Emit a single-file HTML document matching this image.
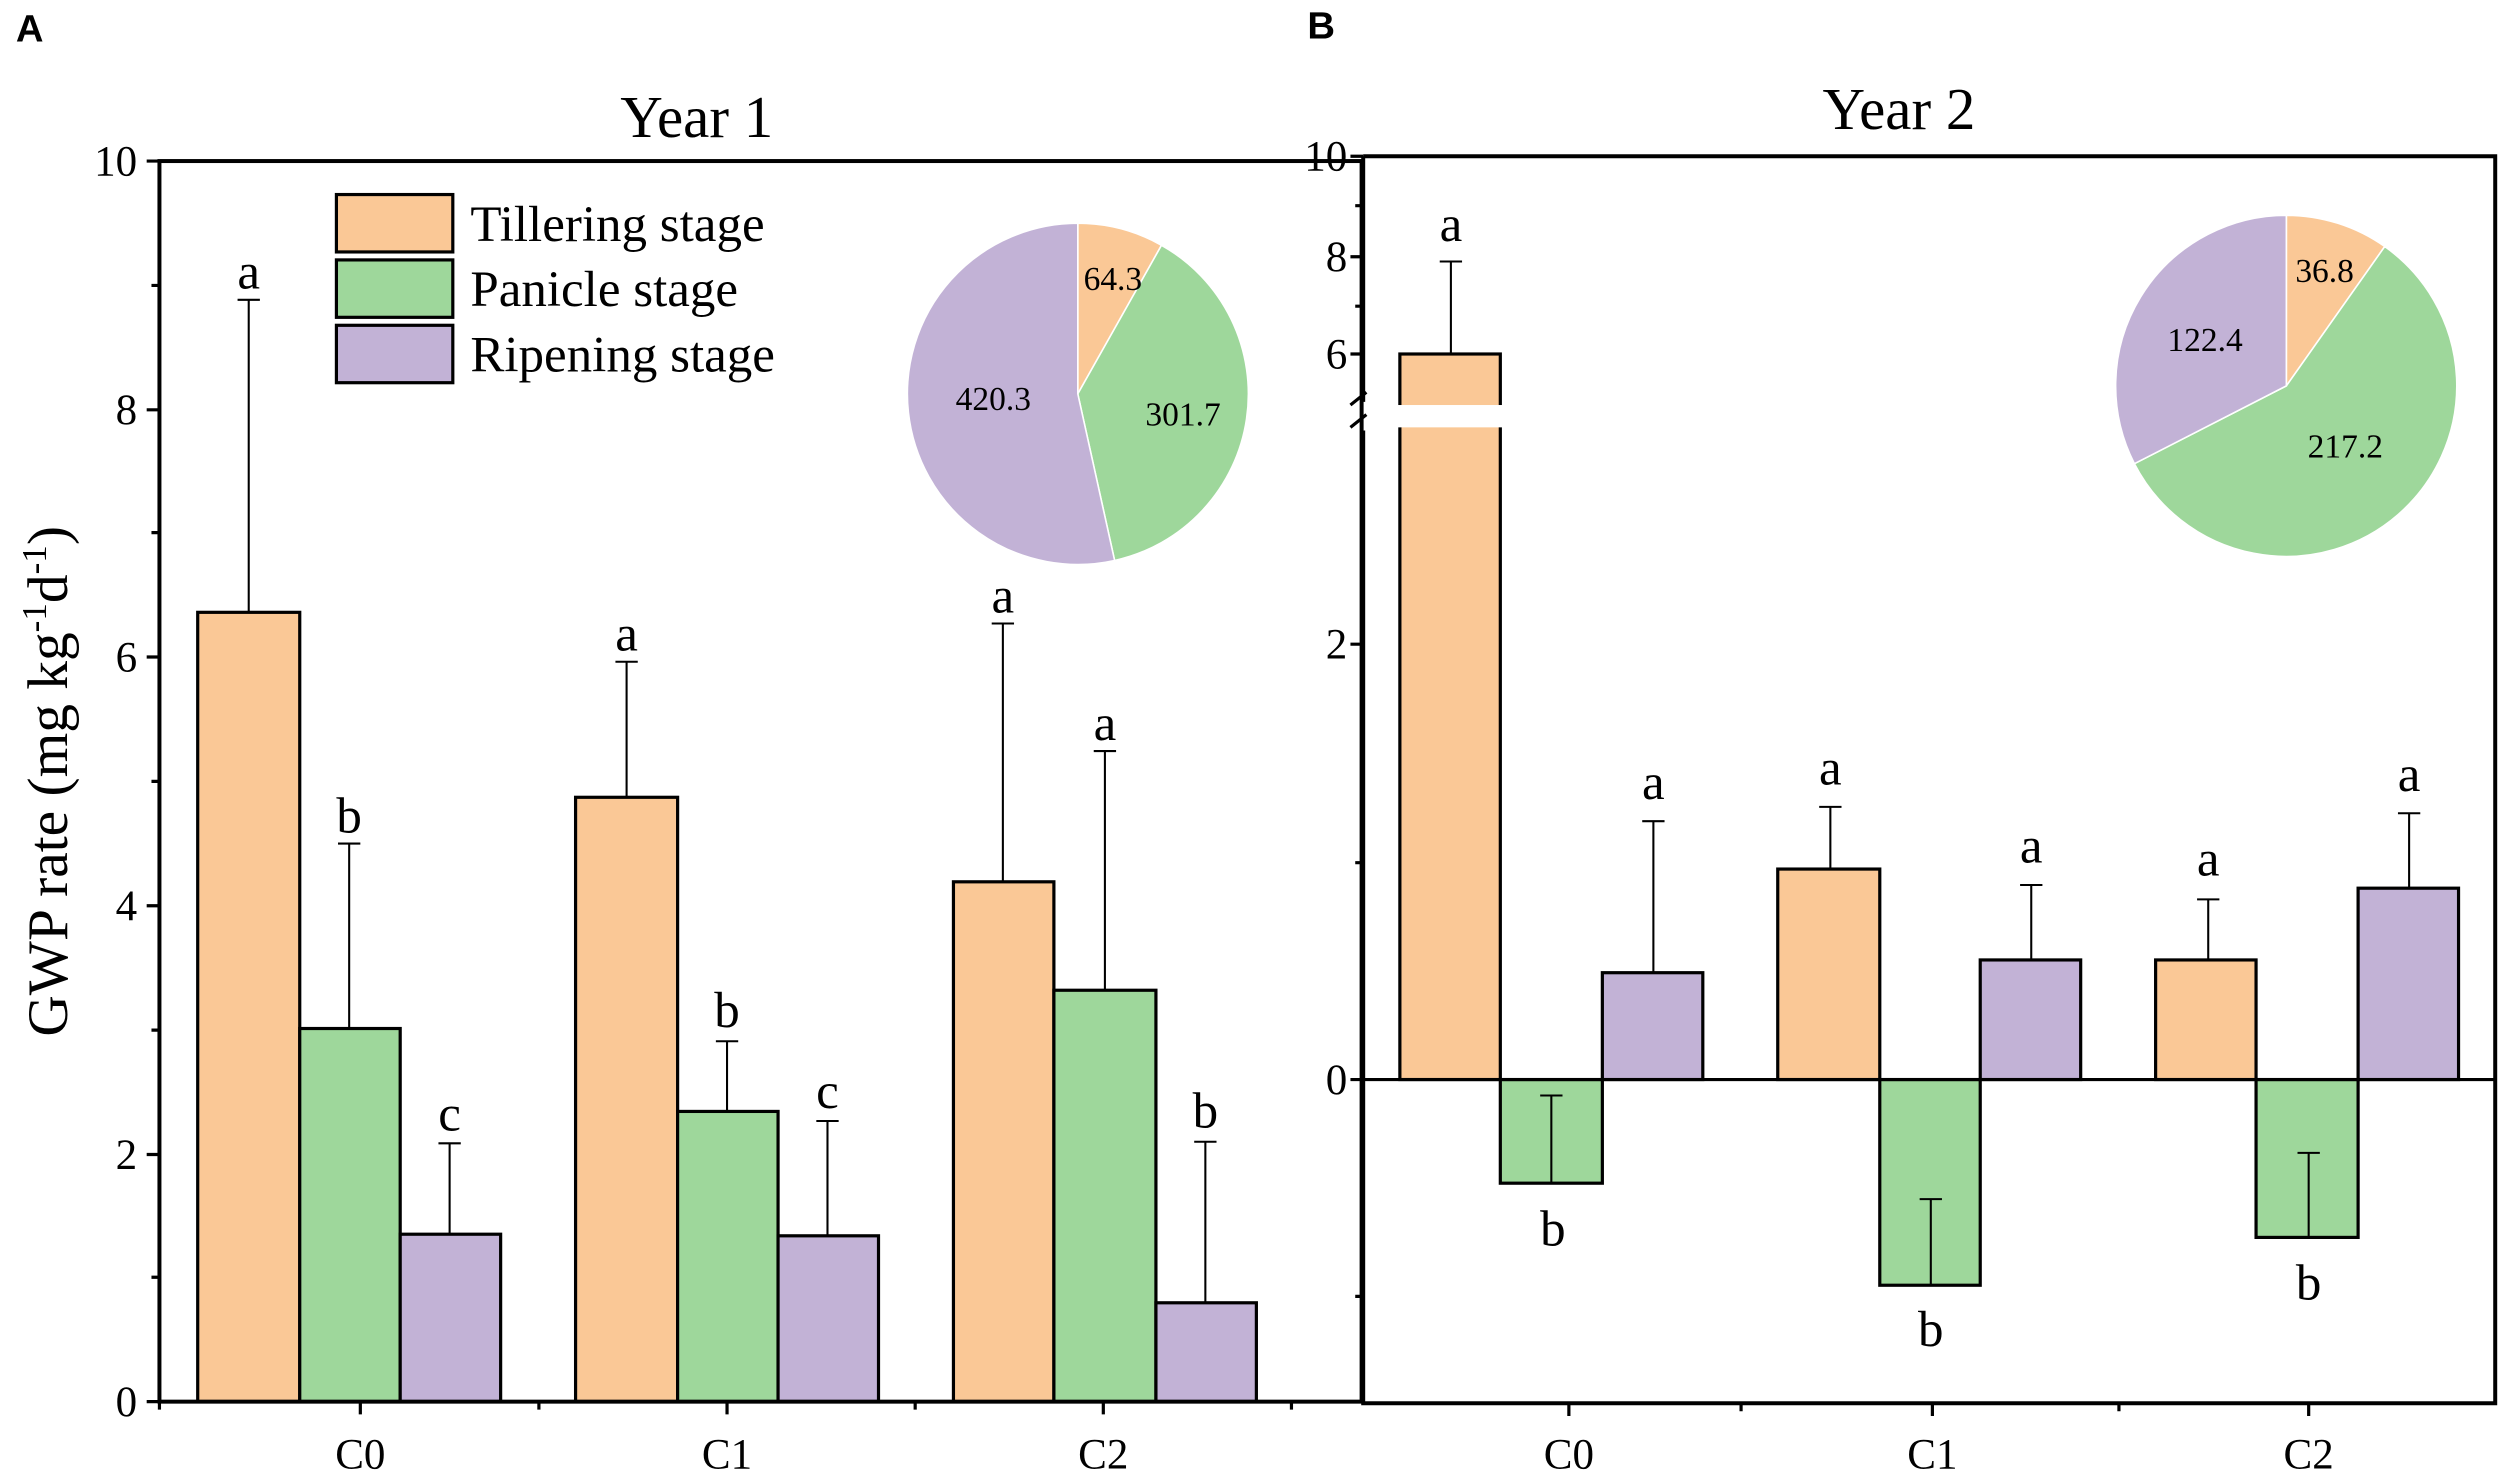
<!DOCTYPE html>
<html><head><meta charset="utf-8"><style>
html,body{margin:0;padding:0;background:#fff;}
svg{display:block;}
text{font-family:"Liberation Serif",serif;fill:#000;}
</style></head><body>
<svg width="2500" height="1475" viewBox="0 0 1568 925" preserveAspectRatio="none" xmlns="http://www.w3.org/2000/svg">
<rect width="1568" height="925" fill="#fff"/>
<text x="10" y="26" style="font-family:'Liberation Sans',sans-serif;font-weight:bold;font-size:24px">A</text>
<text x="820" y="24" style="font-family:'Liberation Sans',sans-serif;font-weight:bold;font-size:24px">B</text>
<text x="437" y="86" font-size="37" text-anchor="middle">Year 1</text>
<text x="1191" y="81" font-size="37" text-anchor="middle">Year 2</text>

<!-- Panel A -->
<g stroke="#000" stroke-width="2">
<rect x="124" y="384" width="64" height="495" fill="#FAC896"/>
<rect x="188" y="645" width="63" height="234" fill="#9ED79B"/>
<rect x="251" y="774" width="63" height="105" fill="#C2B2D6"/>
<rect x="361" y="500" width="64" height="379" fill="#FAC896"/>
<rect x="425" y="697" width="63" height="182" fill="#9ED79B"/>
<rect x="488" y="775" width="63" height="104" fill="#C2B2D6"/>
<rect x="598" y="553" width="63" height="326" fill="#FAC896"/>
<rect x="661" y="621" width="64" height="258" fill="#9ED79B"/>
<rect x="725" y="817" width="63" height="62" fill="#C2B2D6"/>
</g>
<g stroke="#000" stroke-width="1.3" fill="none">
<path d="M156 384V188M149 188H163"/>
<path d="M219 645V529M212 529H226"/>
<path d="M282 774V717M275 717H289"/>
<path d="M393 500V415M386 415H400"/>
<path d="M456 697V653M449 653H463"/>
<path d="M519 775V703M512 703H526"/>
<path d="M629 553V391M622 391H636"/>
<path d="M693 621V471M686 471H700"/>
<path d="M756 817V716M749 716H763"/>
</g>
<g font-size="32" text-anchor="middle">
<text x="156" y="181">a</text><text x="219" y="522">b</text><text x="282" y="709">c</text>
<text x="393" y="408">a</text><text x="456" y="644">b</text><text x="519" y="695">c</text>
<text x="629" y="384">a</text><text x="693" y="464">a</text><text x="756" y="707">b</text>
</g>
<rect x="100" y="101" width="754" height="778" fill="none" stroke="#000" stroke-width="2.5"/>
<g stroke="#000" stroke-width="2">
<path d="M100 101h-8M100 257h-8M100 412h-8M100 568h-8M100 724h-8M100 879h-8"/>
<path d="M100 179h-5M100 334h-5M100 490h-5M100 646h-5M100 801h-5"/>
<path d="M226 879v8M456 879v8M692 879v8M100 879v5M338 879v5M574 879v5M810 879v5"/>
</g>
<g font-size="27" text-anchor="end">
<text x="86" y="110">10</text><text x="86" y="266">8</text><text x="86" y="421">6</text>
<text x="86" y="577">4</text><text x="86" y="733">2</text><text x="86" y="888">0</text>
</g>
<g font-size="27" text-anchor="middle">
<text x="226" y="921">C0</text><text x="456" y="921">C1</text><text x="692" y="921">C2</text>
</g>
<text transform="translate(42,490) rotate(-90)" font-size="36" text-anchor="middle">GWP rate (mg kg<tspan font-size="22" dy="-13">-1</tspan><tspan dy="13">d</tspan><tspan font-size="22" dy="-13">-1</tspan><tspan dy="13">)</tspan></text>
<g stroke="#000" stroke-width="2">
<rect x="211" y="122" width="73" height="36" fill="#FAC896"/>
<rect x="211" y="163" width="73" height="36" fill="#9ED79B"/>
<rect x="211" y="204" width="73" height="36" fill="#C2B2D6"/>
</g>
<g font-size="32"><text x="295" y="151">Tillering stage</text><text x="295" y="192">Panicle stage</text><text x="295" y="233">Ripening stage</text></g>
<g stroke="#fff" stroke-width="1">
<path d="M676 247L676 140A107 107 0 0 1 728.5 153.8Z" fill="#FAC896"/>
<path d="M676 247L728.5 153.8A107 107 0 0 1 699.1 351.5Z" fill="#9ED79B"/>
<path d="M676 247L699.1 351.5A107 107 0 1 1 676 140Z" fill="#C2B2D6"/>
</g>
<g font-size="21" text-anchor="middle"><text x="698" y="182">64.3</text><text x="742" y="267">301.7</text><text x="623" y="257">420.3</text></g>

<!-- Panel B -->
<g stroke="#000" stroke-width="2">
<rect x="878" y="222" width="63" height="455" fill="#FAC896"/>
<rect x="941" y="677" width="64" height="65" fill="#9ED79B"/>
<rect x="1005" y="610" width="63" height="67" fill="#C2B2D6"/>
<rect x="1115" y="545" width="64" height="132" fill="#FAC896"/>
<rect x="1179" y="677" width="63" height="129" fill="#9ED79B"/>
<rect x="1242" y="602" width="63" height="75" fill="#C2B2D6"/>
<rect x="1352" y="602" width="63" height="75" fill="#FAC896"/>
<rect x="1415" y="677" width="64" height="99" fill="#9ED79B"/>
<rect x="1479" y="557" width="63" height="120" fill="#C2B2D6"/>
</g>
<rect x="870" y="254" width="80" height="14" fill="#fff"/>
<g stroke="#000" stroke-width="1.3" fill="none">
<path d="M910 222V164M903 164H917"/>
<path d="M973 742V687M966 687H980"/>
<path d="M1037 610V515M1030 515H1044"/>
<path d="M1148 545V506M1141 506H1155"/>
<path d="M1211 806V752M1204 752H1218"/>
<path d="M1274 602V555M1267 555H1281"/>
<path d="M1385 602V564M1378 564H1392"/>
<path d="M1448 776V723M1441 723H1455"/>
<path d="M1511 557V510M1504 510H1518"/>
</g>
<g font-size="32" text-anchor="middle">
<text x="910" y="151">a</text><text x="974" y="781">b</text><text x="1037" y="501">a</text>
<text x="1148" y="492">a</text><text x="1211" y="844">b</text><text x="1274" y="541">a</text>
<text x="1385" y="549">a</text><text x="1448" y="815">b</text><text x="1511" y="496">a</text>
</g>
<path d="M855 98H1565V880H855V270M855 252V98" fill="none" stroke="#000" stroke-width="2.5"/>
<path d="M855 677H1565" stroke="#000" stroke-width="2"/>
<g stroke="#000" stroke-width="2">
<path d="M847 254L857 246M847 268L857 260"/>
<path d="M855 98h-8M855 161h-8M855 222h-8M855 404h-8M855 677h-8"/>
<path d="M855 129h-5M855 192h-5M855 541h-5M855 813h-5"/>
<path d="M984 880v8M1212 880v8M1448 880v8M1092 880v5M1329 880v5"/>
</g>
<g font-size="27" text-anchor="end">
<text x="845" y="107">10</text><text x="845" y="170">8</text><text x="845" y="231">6</text>
<text x="845" y="413">2</text><text x="845" y="686">0</text>
</g>
<g font-size="27" text-anchor="middle">
<text x="984" y="921">C0</text><text x="1212" y="921">C1</text><text x="1448" y="921">C2</text>
</g>
<g stroke="#fff" stroke-width="1">
<path d="M1434 242L1434 135A107 107 0 0 1 1495.7 154.6Z" fill="#FAC896"/>
<path d="M1434 242L1495.7 154.6A107 107 0 1 1 1338.7 290.8Z" fill="#9ED79B"/>
<path d="M1434 242L1338.7 290.8A107 107 0 0 1 1434 135Z" fill="#C2B2D6"/>
</g>
<g font-size="21" text-anchor="middle"><text x="1458" y="177">36.8</text><text x="1471" y="287">217.2</text><text x="1383" y="220">122.4</text></g>
</svg>
</body></html>
